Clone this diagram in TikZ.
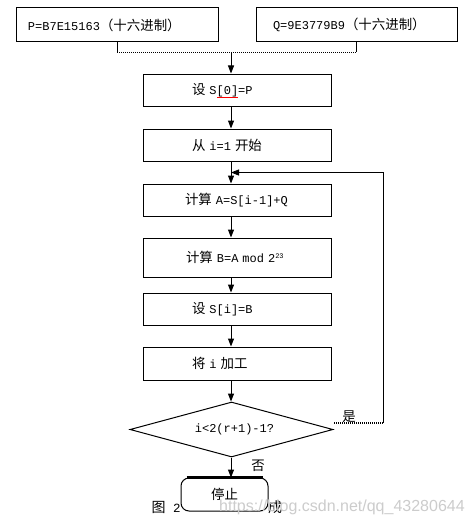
\documentclass[tikz,border=0pt]{standalone}
\usepackage{fontspec}
\setmainfont{Liberation Mono}
\newfontfamily\cjk[Scale=1.12]{Noto Sans CJK SC}
\newfontfamily\wmfont{Liberation Sans}
\usetikzlibrary{arrows.meta,shapes.geometric,calc}
\newcommand\zh[1]{{\cjk #1}}
\begin{document}
\begin{tikzpicture}[x=1pt,y=-1pt,
  txt/.style={font=\fontsize{12}{14}\selectfont},
  box/.style={draw,line width=1pt,minimum height=32pt,text width=188pt,inner sep=0pt,align=left,txt},
  topbox/.style={draw,line width=1pt,minimum height=34pt,inner sep=0pt,align=left,txt},
  arr/.style={line width=1pt,-{Triangle[length=8pt,width=6pt]}},
  solidline/.style={line width=1pt},
  dotline/.style={line width=1.3pt,dash pattern=on 1pt off 1pt},
]
\useasboundingbox (0,0) rectangle (472,527);
\fill[white] (0,0) rectangle (472,527);

% top input boxes
\node[topbox,text width=202pt] (p) at (117,25) {\hspace*{12pt}P=B7E15163\zh{（十六进制）}};
\node[topbox,text width=201pt] (q) at (356.5,25) {\hspace*{17pt}Q=9E3779B9\zh{（十六进制）}};

% process boxes
\node[box] (s0) at (237,90) {\hspace*{49pt}\zh{设} S[0]=P};
\node[box] (i1) at (237,145) {\hspace*{49pt}\zh{从} i=1 \zh{开始}};
\node[box] (ca) at (237,200) {\hspace*{42pt}\zh{计算} A=S[i-1]+Q};
\node[box,minimum height=39pt] (cb) at (237,257.5) {\hspace*{43pt}\zh{计算} B=A mod 2\textsuperscript{\fontsize{7}{8}\selectfont 23}};
\node[box] (si) at (237,309) {\hspace*{49pt}\zh{设} S[i]=B};
\node[box,minimum height=33pt] (inc) at (237,363.5) {\hspace*{49pt}\zh{将} i \zh{加工}};

% decision
\node[draw,diamond,line width=1pt,aspect=3.7,minimum width=203pt,minimum height=55pt,inner sep=0pt,txt] (d) at (231.5,429.5) {\hspace*{6pt}i<2(r+1)-1?};

% caption (partly hidden behind stop box)
\node[inner sep=0pt,font=\fontsize{12.5}{14}\selectfont] (cap1) at (166,507) {\zh{图} 2};
\node[inner sep=0pt,font=\fontsize{12.5}{14}\selectfont] (cap2) at (275,507) {\zh{成}};

% stop box
\node[draw,line width=1pt,rounded corners=8pt,fill=white,minimum width=87pt,minimum height=33pt,inner sep=0pt,txt] (stop) at (224.5,494.5) {\zh{停止}};
\draw[line width=3pt] ($(stop.north west)+(6,0)$) -- ($(stop.north east)+(-6,0)$);

% column of arrows
\coordinate (ax) at (231,0);

% merge of top boxes
\draw[solidline] (p.south) -- ++(0,10) coordinate (pl);
\draw[solidline] (q.south) -- (q.south |- pl) coordinate (ql);
\draw[dotline] (pl) -- (ql);
\draw[arr] (pl -| ax) -- (s0.north -| ax);

% main flow
\draw[arr] (s0.south -| ax) -- (i1.north -| ax);
\draw[arr] (i1.south -| ax) -- (ca.north -| ax);
\draw[arr] (ca.south -| ax) -- (cb.north -| ax);
\draw[arr] (cb.south -| ax) -- (si.north -| ax);
\draw[arr] (si.south -| ax) -- (inc.north -| ax);
\draw[arr] (inc.south -| ax) -- (d.north -| ax);
\draw[arr] (d.south -| ax) -- (stop.north -| ax);

% loop back
\coordinate (m) at ($(i1.south)!0.5!(ca.north)$);
\coordinate (yes) at (334,423);
\coordinate (lc) at (383,423);
\draw[dotline] (yes) -- (lc);
\draw[arr] (lc) |- (m -| ax);

% labels
\node[txt,inner sep=0pt] (shi) at (349,417) {\zh{是}};
\node[txt,inner sep=0pt] (fou) at (258,466) {\zh{否}};

% spell-check underline
\draw[red,line width=0.6pt] (217,97.5) -- (238,97.5);

% watermark
\node[anchor=west,inner sep=0pt,text=gray!40,font=\wmfont\fontsize{16}{18}\selectfont] (wm) at (219,507) {https://blog.csdn.net/qq\_43280644};
\end{tikzpicture}
\end{document}
